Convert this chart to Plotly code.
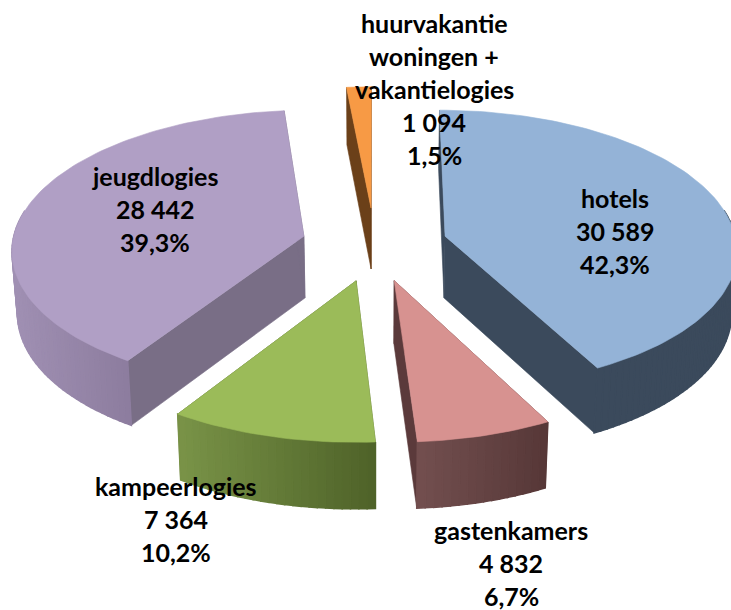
import math
import plotly.graph_objects as go

# ---- data ----
categories = ["hotels", "gastenkamers", "kampeerlogies", "jeugdlogies", "huurvakantie<br>woningen +<br>vakantielogies"]
values = [30589, 4832, 7364, 28442, 1094]
value_labels = ["30 589", "4 832", "7 364", "28 442", "1 094"]
percent_labels = ["42,3%", "6,7%", "10,2%", "39,3%", "1,5%"]

# ---- styles ----
top_colors = ["#94B3D7", "#D79290", "#9BBB59", "#B09FC5", "#F79A45"]
wall_colors = ["#3B4A5C", "#5B3A3B", "#4F6329", "#796E86", "#6B4019"]
rim_left = ["#3B4A5C", "#745050", "#7A9448", "#A090B3", "#6B4019"]
rim_right = ["#3B4A5C", "#573838", "#4F6329", "#8D7D9F", "#6B4019"]
label_centers = [(615, 198), (511, 530), (176, 486), (155, 176), (434, 23)]
LINE_STEP = 33

# projection of the pie plane
A, B, K = 292, 139, 0.09
EX, EY = 0.24, 0.30
# where each slice's tip lands for a given bisector angle
TIP_X, TIP_DX = 374.5, 72.7
TIP_Y, TIP_DY = 245, 37


def persp(u, v):
    w = 1 + K * v
    return A * u / w, -B * v / w


def hexrgb(h):
    return [int(h[i:i + 2], 16) for i in (1, 3, 5)]


def mix(c1, c2, t):
    a, b = hexrgb(c1), hexrgb(c2)
    return "rgb(%d,%d,%d)" % tuple(round(a[i] + (b[i] - a[i]) * t) for i in range(3))


def poly(fig, pts, color, lw=0.6):
    fig.add_trace(go.Scatter(
        x=[p[0] for p in pts] + [pts[0][0]], y=[p[1] for p in pts] + [pts[0][1]],
        mode="lines", fill="toself", fillcolor=color,
        line=dict(color=color, width=lw), hoverinfo="skip", showlegend=False))


total = sum(values)
fig = go.Figure()
edges = [0]
for val in values:
    edges.append(edges[-1] + val / total * 2 * math.pi)

for i in [4, 3, 0, 2, 1]:  # back to front
    t0, t1 = edges[i], edges[i + 1]
    mid = (t0 + t1) / 2
    cu, cv = EX * math.sin(mid), EY * math.cos(mid)
    tip_x = TIP_X + TIP_DX * math.sin(mid)
    tip_y = TIP_Y - TIP_DY * math.cos(mid)
    px0, py0 = persp(cu, cv)

    def project(u, v, lower=False):
        px, py = persp(u, v)
        dx, dy = px - px0, py - py0
        x, y = tip_x + dx, tip_y + dy
        if lower:
            x = TIP_X + (x - TIP_X) * 0.985
            y += 62 - 3.5 * v
        return x, y

    n = max(6, int((t1 - t0) * 40))
    thetas = [t0 + (t1 - t0) * j / n for j in range(n + 1)]
    rim = [(cu + math.sin(t), cv + math.cos(t)) for t in thetas]
    # radial walls
    for p in (rim[0], rim[-1]):
        poly(fig, [project(cu, cv), project(*p), project(*p, lower=True), project(cu, cv, lower=True)], wall_colors[i])
    # outer rim, shaded left to right
    xs = [project(*p)[0] for p in rim if p[1] < cv + 0.2]
    xmin, xmax = (min(xs), max(xs)) if xs else (0, 1)
    for j in range(n):
        p, q = rim[j], rim[j + 1]
        if (p[1] + q[1]) / 2 > cv + 0.2:
            continue
        tx = (project(*p)[0] - xmin) / max(xmax - xmin, 1)
        tx = min(max(tx, 0), 1)
        c = mix(rim_left[i], rim_right[i], tx)
        poly(fig, [project(*p), project(*q), project(*q, lower=True), project(*p, lower=True)], c, 1.5)
    # top face
    poly(fig, [project(cu, cv)] + [project(*p) for p in rim], top_colors[i])

for i, cat in enumerate(categories):
    lines = cat.split("<br>") + [value_labels[i], percent_labels[i]]
    cx, cy = label_centers[i]
    for j, txt in enumerate(lines):
        fig.add_annotation(x=cx, y=cy + j * LINE_STEP, text=txt, showarrow=False,
                           xanchor="center", yanchor="middle",
                           font=dict(family="Lato", size=25, color="#000000", weight="bold"))

fig.update_layout(
    width=731, height=610, margin=dict(l=0, r=0, t=0, b=0),
    paper_bgcolor="white", plot_bgcolor="white", showlegend=False,
    xaxis=dict(range=[0, 731], visible=False, fixedrange=True),
    yaxis=dict(range=[610, 0], visible=False, fixedrange=True),
)
fig.write_html("out.html", config={"displayModeBar": False},
               post_script="document.body.style.margin='0';document.body.style.overflow='hidden';")
